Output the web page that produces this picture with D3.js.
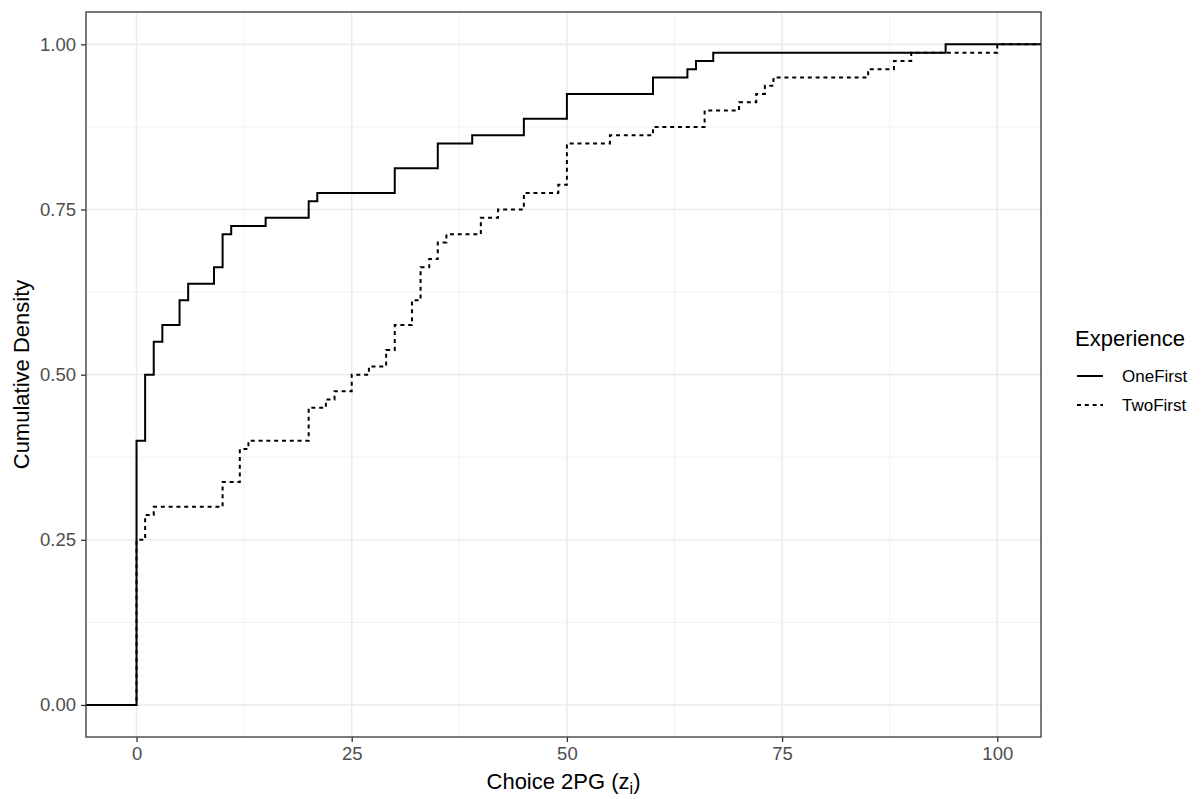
<!DOCTYPE html>
<html>
<head>
<meta charset="utf-8">
<script src="https://cdn.jsdelivr.net/npm/d3@7"></script>
<style>
	body { margin: 0; background: #ffffff; }
	svg { font-family: "Liberation Sans", Arial, sans-serif; }
</style>
</head>
<body>
<div id="chartDiv"></div>
<script>
// ECDF steps: choice value and cumulative share after it
var oneFirstX = [0, 1, 2, 3, 5, 6, 9, 10, 11, 15, 20, 21, 30, 35, 39, 45, 50, 60, 64, 65, 67, 94];
var oneFirstCdf = [0.4, 0.5, 0.55, 0.575, 0.6125, 0.6375, 0.6625, 0.7125, 0.725, 0.7375, 0.7625, 0.775,
	0.8125, 0.85, 0.8625, 0.8875, 0.925, 0.95, 0.9625, 0.975, 0.9875, 1.0];

var twoFirstX = [0, 1, 2, 10, 12, 13, 20, 22, 23, 25, 27, 29, 30, 32, 33, 34, 35, 36, 40, 42, 45, 49, 50,
	55, 60, 66, 70, 72, 73, 74, 85, 88, 90, 100];
var twoFirstCdf = [0.25, 0.2875, 0.3, 0.3375, 0.3875, 0.4, 0.45, 0.4625, 0.475, 0.5, 0.5125, 0.5375, 0.575,
	0.6125, 0.6625, 0.675, 0.7, 0.7125, 0.7375, 0.75, 0.775, 0.7875, 0.85,
	0.8625, 0.875, 0.9, 0.9125, 0.925, 0.9375, 0.95, 0.9625, 0.975, 0.9875, 1.0];

var seriesNames = ["OneFirst", "TwoFirst"];
var xTicks = [0, 25, 50, 75, 100];
var xMinorTicks = [12.5, 37.5, 62.5, 87.5];
var yTicks = [0, 0.25, 0.5, 0.75, 1];
var yMinorTicks = [0.125, 0.375, 0.625, 0.875];

var svgWidth = 1201, svgHeight = 799;
var panel = {left: 86, right: 1041, top: 12, bottom: 737};

var xScale, yScale;
var chartSVG;

function init() {
	xScale = d3.scaleLinear()
		.domain([-5.87, 105.08])
		.range([panel.left, panel.right]);
	yScale = d3.scaleLinear()
		.domain([-0.0485, 1.049])
		.range([panel.bottom, panel.top]);

	chartSVG = d3.select("#chartDiv").append("svg")
		.attr("width", svgWidth)
		.attr("height", svgHeight)
	;

	drawGrid();
	drawSteps(oneFirstX, oneFirstCdf, null);
	drawSteps(twoFirstX, twoFirstCdf, "4,3.8");
	drawAxes();
	drawLegend();
}

function gridLines(values, vertical, colour, width) {
	chartSVG.append("g").selectAll("line")
		.data(values).enter().append("line")
		.attr("x1", function (d) { return vertical ? xScale(d) : panel.left; })
		.attr("x2", function (d) { return vertical ? xScale(d) : panel.right; })
		.attr("y1", function (d) { return vertical ? panel.top : yScale(d); })
		.attr("y2", function (d) { return vertical ? panel.bottom : yScale(d); })
		.attr("stroke", colour)
		.attr("stroke-width", width)
	;
}

function drawGrid() {
	gridLines(xMinorTicks, true, "#f0f0f0", 0.9);
	gridLines(yMinorTicks, false, "#f0f0f0", 0.9);
	gridLines(xTicks, true, "#ebebeb", 1.6);
	gridLines(yTicks, false, "#ebebeb", 1.6);
}

function drawSteps(xs, cdf, dash) {
	// pad to the panel edges like stat_ecdf does with -Inf / Inf
	var dom = xScale.domain();
	var pts = [[dom[0], 0]];
	xs.forEach(function (x, i) {
		pts.push([x, cdf[i]]);
	});
	pts.push([dom[1], 1]);

	var stepLine = d3.line()
		.x(function (d) { return xScale(d[0]); })
		.y(function (d) { return yScale(d[1]); })
		.curve(d3.curveStepAfter);

	chartSVG.append("path")
		.datum(pts)
		.attr("d", stepLine)
		.attr("fill", "none")
		.attr("stroke", "#000000")
		.attr("stroke-width", 2)
		.attr("stroke-dasharray", dash)
	;
}

function drawAxes() {
	var xAxis = d3.axisBottom(xScale)
		.tickValues(xTicks)
		.tickSize(5)
		.tickPadding(5)
		.tickFormat(d3.format("d"));
	var yAxis = d3.axisLeft(yScale)
		.tickValues(yTicks)
		.tickSize(5)
		.tickPadding(5)
		.tickFormat(d3.format(".2f"));

	var gx = chartSVG.append("g")
		.attr("transform", "translate(0," + panel.bottom + ")")
		.call(xAxis);
	var gy = chartSVG.append("g")
		.attr("transform", "translate(" + panel.left + ",0)")
		.call(yAxis);

	[gx, gy].forEach(function (g) {
		g.select(".domain").remove();
		g.selectAll(".tick line").attr("stroke", "#333333").attr("stroke-width", 1.3);
		g.selectAll(".tick text")
			.attr("fill", "#4d4d4d")
			.style("font-size", "18.5px")
			.style("font-family", "'Liberation Sans', Arial, sans-serif");
	});

	// panel border
	chartSVG.append("rect")
		.attr("x", panel.left)
		.attr("y", panel.top)
		.attr("width", panel.right - panel.left)
		.attr("height", panel.bottom - panel.top)
		.attr("fill", "none")
		.attr("stroke", "#333333")
		.attr("stroke-width", 1.3)
	;

	var xTitle = chartSVG.append("text")
		.attr("x", (panel.left + panel.right) / 2)
		.attr("y", 789)
		.attr("text-anchor", "middle")
		.style("font-size", "22px")
		.attr("fill", "#000000");
	xTitle.append("tspan").text("Choice 2PG (z");
	xTitle.append("tspan").text("i").attr("dy", 5).style("font-size", "16px");
	xTitle.append("tspan").text(")").attr("dy", -5);

	chartSVG.append("text")
		.attr("transform", "translate(29," + ((panel.top + panel.bottom) / 2) + ") rotate(-90)")
		.attr("text-anchor", "middle")
		.style("font-size", "22px")
		.attr("fill", "#000000")
		.text("Cumulative Density")
	;
}

function drawLegend() {
	var legend = chartSVG.append("g");
	legend.append("text")
		.attr("x", 1075)
		.attr("y", 346)
		.style("font-size", "22px")
		.attr("fill", "#000000")
		.text("Experience")
	;
	var rowY = [376, 405];
	var dashes = [null, "4,3.8"];
	seriesNames.forEach(function (name, i) {
		legend.append("line")
			.attr("x1", 1077)
			.attr("x2", 1103)
			.attr("y1", rowY[i])
			.attr("y2", rowY[i])
			.attr("stroke", "#000000")
			.attr("stroke-width", 2)
			.attr("stroke-dasharray", dashes[i])
		;
		legend.append("text")
			.attr("x", 1122)
			.attr("y", rowY[i] + 6)
			.style("font-size", "17px")
			.attr("fill", "#000000")
			.text(name)
		;
	});
}

init();
</script>
</body>
</html>
